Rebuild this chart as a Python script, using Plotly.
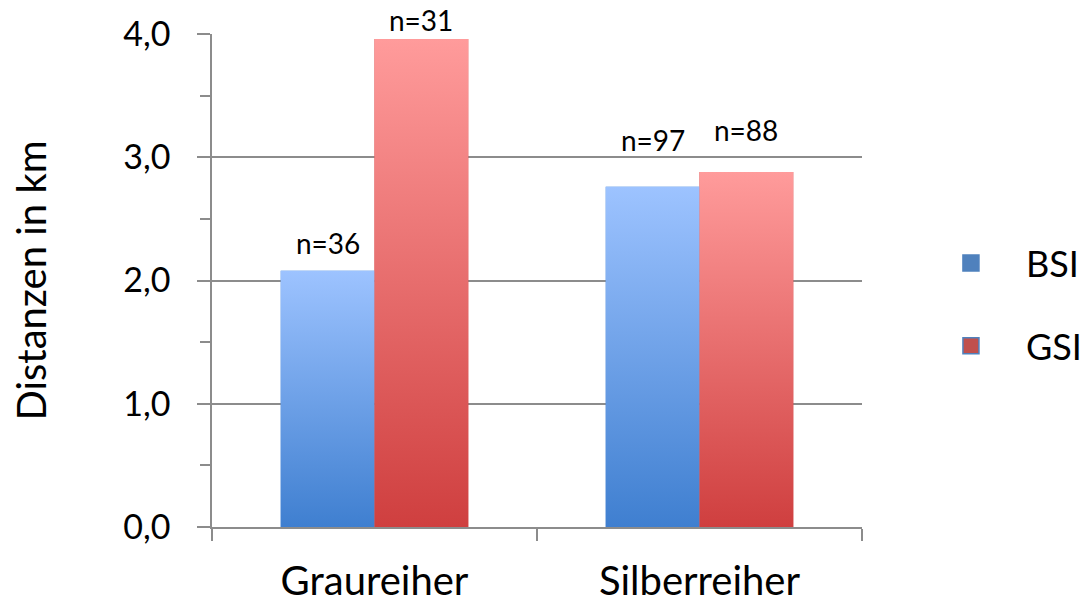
import plotly.graph_objects as go

categories = ["Graureiher", "Silberreiher"]
series_names = ["BSI", "GSI"]
bsi_values = [2.08, 2.76]
gsi_values = [3.96, 2.88]
bsi_n = ["n=36", "n=97"]
gsi_n = ["n=31", "n=88"]
y_tickvals = [0, 1, 2, 3, 4]

FONT = "Lato"
GRID = "#8c8c8c"
bargap = 0.423
bar_w = (1 - bargap) / 2

series = [
    dict(name="BSI", values=bsi_values, labels=bsi_n, solid="#4f81bd",
         top="#9dc3ff", bottom="#3f7fd0", line="#4f81bd", shifts=[9, 28]),
    dict(name="GSI", values=gsi_values, labels=gsi_n, solid="#c0504d",
         top="#ff9b9b", bottom="#cf3f3f", line="#4f81bd", shifts=[0, 23]),
]

xpos = list(range(len(categories)))
fig = go.Figure()

# base bar traces (data)
for s in series:
    fig.add_trace(go.Bar(x=xpos, y=s["values"], name=s["name"], marker_color=s["bottom"],
                         marker_line_width=0, showlegend=False,
                         hovertemplate="%{y:.2f}<extra>" + s["name"] + "</extra>"))

# gradient overlay computed from data values
annotations = []
for i, s in enumerate(series):
    for j, v in enumerate(s["values"]):
        x0 = xpos[j] - bar_w + i * bar_w
        x1 = x0 + bar_w
        fig.add_trace(go.Scatter(
            x=[x0, x1, x1, x0, x0], y=[0, 0, v, v, 0], mode="lines",
            line=dict(width=0), fill="toself",
            fillgradient=dict(type="vertical", colorscale=[[0, s["bottom"]], [1, s["top"]]]),
            showlegend=False, hoverinfo="skip"))
        annotations.append(dict(x=(x0 + x1) / 2, y=v, xref="x", yref="y", text=s["labels"][j],
                                showarrow=False, yanchor="bottom", yshift=s["shifts"][j],
                                font=dict(family=FONT, size=28, color="#000")))

# legend entries
for k, s in enumerate(series):
    fig.add_trace(go.Scatter(x=[None], y=[None], mode="markers", name=s["name"],
                             legendgroup=s["name"],
                             marker=dict(symbol="square", size=16, color=s["solid"],
                                         line=dict(color=s["line"], width=1.5))))

fig.update_layout(
    width=1084, height=598,
    margin=dict(l=212, r=222, t=34, b=71, autoexpand=False),
    paper_bgcolor="white", plot_bgcolor="white",
    separators=",.",
    barmode="group", bargap=bargap, bargroupgap=0,
    font=dict(family=FONT, color="#000"),
    showlegend=True,
    legend=dict(x=1.083, xanchor="left", y=0.596, yanchor="top",
                font=dict(family=FONT, size=36), tracegroupgap=33,
                itemwidth=100, bgcolor="rgba(0,0,0,0)"),
    annotations=annotations,
)

fig.update_xaxes(
    range=[-0.5, 1.5], tickvals=xpos, ticktext=categories, ticks="",
    showgrid=False, zeroline=False, showline=True, linecolor=GRID, linewidth=1.5,
    tickfont=dict(family=FONT, size=40), ticklabelstandoff=18,
    minor=dict(tick0=-0.5, dtick=1, ticks="outside", ticklen=12, tickcolor=GRID, tickwidth=1.5, showgrid=False),
)
fig.update_yaxes(
    range=[0, 4], tickvals=y_tickvals, tickformat=".1f",
    ticks="outside", ticklen=13, tickcolor=GRID, tickwidth=1.5,
    showgrid=True, gridcolor=GRID, gridwidth=1.5, zeroline=False,
    showline=True, linecolor=GRID, linewidth=1.5,
    tickfont=dict(family=FONT, size=34), ticklabelstandoff=20,
    minor=dict(dtick=0.5, ticks="outside", ticklen=10, tickcolor=GRID, tickwidth=1.5, showgrid=False),
    title=dict(text="Distanzen in km", font=dict(family=FONT, size=40), standoff=64),
)

fig.write_html(
    "out.html",
    config={"displayModeBar": False},
    post_script="document.body.style.margin='0px';"
                "document.body.style.overflow='hidden';"
                "document.documentElement.style.overflow='hidden';",
)
